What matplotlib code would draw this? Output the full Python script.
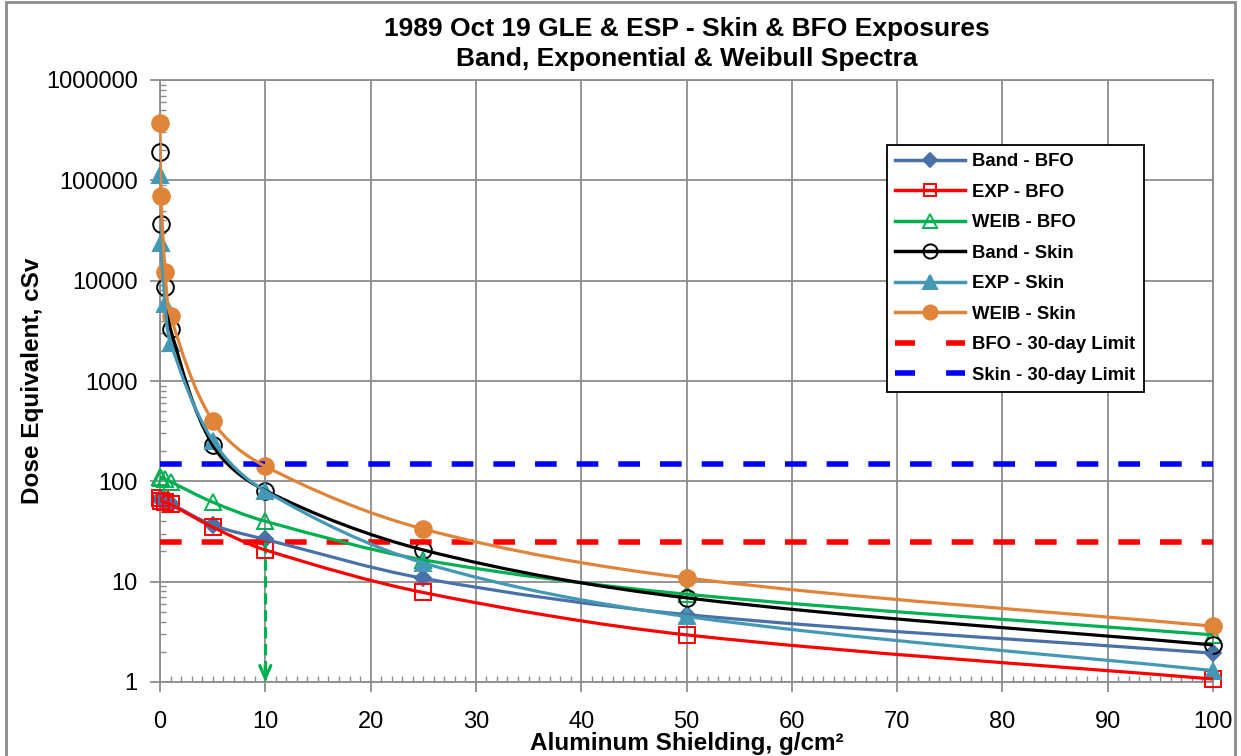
import numpy as np
import matplotlib
matplotlib.use("Agg")
import matplotlib.pyplot as plt
from matplotlib.path import Path
from matplotlib.patches import PathPatch, Rectangle
from matplotlib.lines import Line2D
from matplotlib.ticker import LogLocator, FuncFormatter, MultipleLocator, NullFormatter

plt.rcParams['font.family'] = ['Liberation Sans', 'DejaVu Sans']

# --- data ---
shield = [0, 0.1, 0.5, 1, 5, 10, 25, 50, 100]

band_bfo = [67, 65, 63, 60, 36.7, 26.4, 10.8, 4.7, 1.94]
exp_bfo = [68, 64, 62, 59, 35, 20.7, 7.8, 2.95, 1.07]
weib_bfo = [111, 108, 105, 99, 62, 40, 16.5, 7.5, 2.95]
band_skin = [190000, 37000, 8700, 3270, 230, 81, 20.7, 6.9, 2.34]
exp_skin = [113000, 23600, 5850, 2400, 255, 80, 15.4, 4.5, 1.3]
weib_skin = [370000, 70000, 12200, 4450, 400, 141, 33.5, 10.9, 3.6]

bfo_limit = 25
skin_limit = 150
limit_x = [0, 100]

series = [
    ("Band - BFO", band_bfo, "#4A70A8", "D", "#4A70A8", 8),
    ("EXP - BFO", exp_bfo, "#FF0000", "s", "none", 11),
    ("WEIB - BFO", weib_bfo, "#00B050", "^", "none", 12),
    ("Band - Skin", band_skin, "#000000", "o", "none", 12),
    ("EXP - Skin", exp_skin, "#4298B5", "^", "#4298B5", 12),
    ("WEIB - Skin", weib_skin, "#E0843A", "o", "#E0843A", 12),
]

fig = plt.figure(figsize=(12.41, 7.56), dpi=100)
ax = fig.add_axes([160 / 1241, 1 - 682 / 756, (1213 - 160) / 1241, (682 - 80) / 756])
ax.set_yscale("log")
ax.set_xlim(0, 100)
ax.set_ylim(1, 1e6)


def smooth_line(xs, ys, color, z):
    # smoothed line like Excel's: cubic Bezier through the points, in pixel space
    pts = ax.transData.transform(np.column_stack([xs, ys]))
    n = len(pts)
    tang = []
    for i in range(n):
        d = pts[min(i + 1, n - 1)] - pts[max(i - 1, 0)]
        tang.append(d / np.hypot(*d))
    verts = [pts[0]]
    codes = [Path.MOVETO]
    for i in range(n - 1):
        seg = np.hypot(*(pts[i + 1] - pts[i]))
        c1 = pts[i] + tang[i] * seg * 0.33
        c2 = pts[i + 1] - tang[i + 1] * seg * 0.33
        verts += [c1, c2, pts[i + 1]]
        codes += [Path.CURVE4] * 3
    patch = PathPatch(Path(verts, codes), facecolor="none", edgecolor=color,
                      lw=2.3, transform=None, zorder=z, capstyle="round")
    patch.set_clip_path(ax.patch)
    fig.add_artist(patch)


handles = []
for k, (name, vals, col, mk, fc, ms) in enumerate(series):
    smooth_line(shield, vals, col, 3 + k)
    ax.plot(shield, vals, ls="none", marker=mk, ms=ms, mfc=fc, mec=col,
            mew=1.4, zorder=3.5 + k, clip_on=False)
    handles.append(Line2D([], [], color=col, lw=2.5, marker=mk, ms=ms * 0.85,
                          mfc=fc, mec=col, mew=1.4))

ax.plot(limit_x, [bfo_limit] * 2, color="#FF0000", lw=4, ls=(0, (3.9, 3.6)), zorder=10)
ax.plot(limit_x, [skin_limit] * 2, color="#0000FF", lw=4, ls=(0, (3.9, 3.6)), zorder=10)
handles.append(Line2D([], [], color="#FF0000", lw=4, ls=(0, (3.6, 5.6))))
handles.append(Line2D([], [], color="#0000FF", lw=4, ls=(0, (3.6, 5.6))))
labels = [s[0] for s in series] + ["BFO - 30-day Limit", "Skin - 30-day Limit"]

# green dashed arrow at 10 g/cm2 from the BFO limit down to the axis
ax.plot([10, 10], [bfo_limit, 1.05], color="#00B050", lw=2.3, ls=(0, (3.5, 1.8)), zorder=11)
ax.annotate("", xy=(10, 1.0), xytext=(10, 1.5),
            arrowprops=dict(arrowstyle="->,head_length=0.9,head_width=0.4",
                            color="#00B050", lw=2.3, shrinkA=0, shrinkB=0), zorder=11)

# axes styling
ax.xaxis.set_major_locator(MultipleLocator(10))
ax.xaxis.set_minor_locator(MultipleLocator(1))
ax.yaxis.set_major_locator(LogLocator(base=10, numticks=10))
ax.yaxis.set_minor_locator(LogLocator(base=10, subs=np.arange(2, 10), numticks=20))
ax.yaxis.set_major_formatter(FuncFormatter(lambda v, p: f"{int(round(v))}"))
ax.yaxis.set_minor_formatter(NullFormatter())
ax.grid(True, which="major", color="#8C8C8C", lw=1.3)
ax.set_axisbelow(True)
for sp in ax.spines.values():
    sp.set_color("#8C8C8C")
    sp.set_linewidth(1.3)
ax.tick_params(which="major", direction="out", length=7, color="#8C8C8C", width=1.3,
               labelsize=17)
ax.tick_params(axis="x", which="major", pad=14)
ax.tick_params(axis="y", which="major", pad=9)
ax.tick_params(which="minor", direction="in", length=4, color="#8C8C8C", width=1.0)

ax.set_xlabel("Aluminum Shielding, g/cm²", fontsize=17.5, fontweight="bold", labelpad=-1)
ax.set_ylabel("Dose Equivalent, cSv", fontsize=17.5, fontweight="bold", labelpad=1.5)
ax.set_title("1989 Oct 19 GLE & ESP - Skin & BFO Exposures\nBand, Exponential & Weibull Spectra",
             fontsize=19, fontweight="bold", pad=10, linespacing=1.3)

leg = ax.legend(handles, labels, loc="upper left", bbox_to_anchor=(0.690, 0.892),
                prop={"weight": "bold", "size": 13.3}, frameon=True,
                fancybox=False, edgecolor="black", framealpha=1, handlelength=3.8,
                borderpad=0.45, labelspacing=0.73, handletextpad=0.4, numpoints=1,
                borderaxespad=0)
leg.get_frame().set_linewidth(1.3)
leg.set_zorder(20)

fig.add_artist(Rectangle((0.005, -0.01), 0.99, 1.007, transform=fig.transFigure,
                         fill=False, edgecolor="#8C8C8C", lw=2))

fig.savefig("out.png", dpi=100)
